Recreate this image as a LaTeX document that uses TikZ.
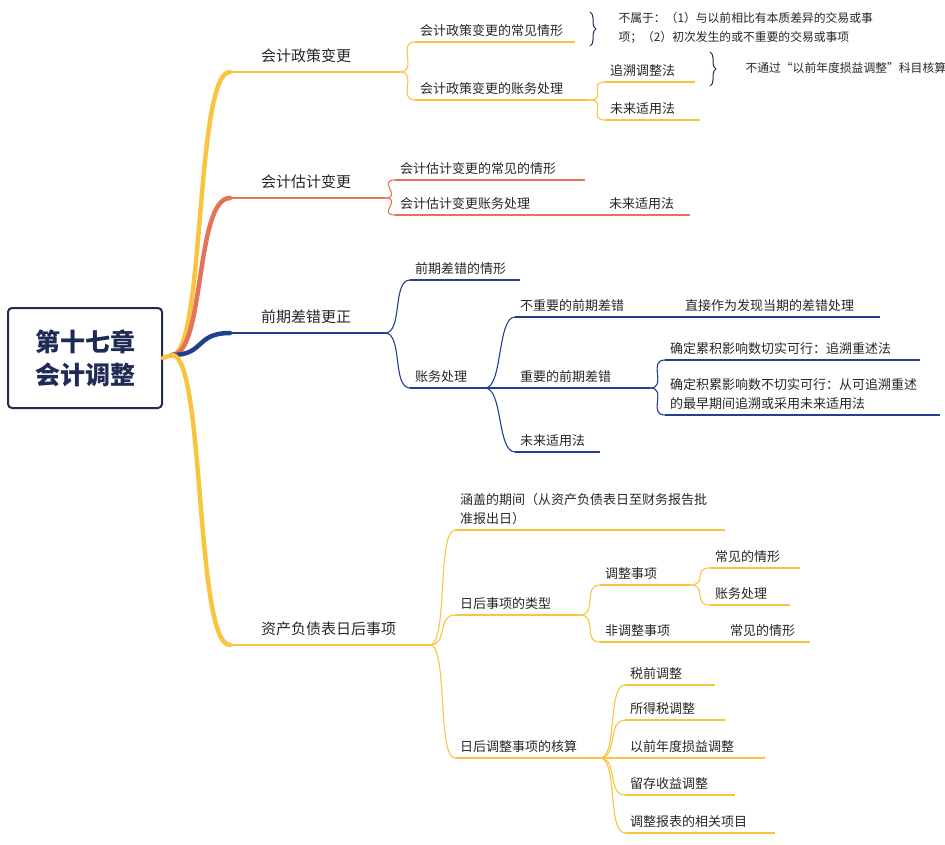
\documentclass[tikz,border=0pt]{standalone}
\usepackage{fontspec}
\setmainfont{Noto Sans CJK SC}
\usetikzlibrary{decorations.pathreplacing}

\definecolor{gold}{HTML}{F9C440}
\definecolor{coral}{HTML}{E5735A}
\definecolor{navy}{HTML}{23408E}
\definecolor{ink}{HTML}{1F2A55}

% one topic: name, x1, x2, y, colour, text
\newcommand\topic[6]{%
  \coordinate (#1-s) at (#2,#4); \coordinate (#1-e) at (#3,#4);
  \draw[line, #5] (#1-s) -- (#1-e);
  \node[lab, anchor=south west] (#1) at (#1-s) {#6};}
% curved link from parent end to child start
\newcommand\link[3]{\draw[line, #3] (#1-e) .. controls +(18,0) and +(-18,0) .. (#2-s);}

\begin{document}
\begin{tikzpicture}[x=1pt, y=-1pt,
    line/.style={line width=1.1pt},
    main/.style={line width=4.5pt, line cap=round},
    lab/.style={inner xsep=5pt, inner ysep=5pt, font=\fontsize{13}{19}\selectfont, text=black!85, align=left},
    big/.style={font=\fontsize{15}{19}\selectfont, xshift=26pt, yshift=4pt},
    note/.style={font=\fontsize{11.8}{19}\selectfont, text=black!85, align=left},
    brace/.style={decorate, decoration={brace, amplitude=6pt}, line width=1pt, ink}
]
\useasboundingbox (0,0) rectangle (945,845);

% Root
\node[draw=ink, line width=2pt, rounded corners=4pt, minimum width=154pt, minimum height=100pt,
      font=\fontsize{25}{33}\selectfont\bfseries, text=ink, align=center] (root) at (85,358) {第十七章\\会计调整};
\coordinate (hub) at (172,355);
\draw[main, gold] (root.east) -- (hub);

% Main branches
\topic{pol}{230}{400}{72}{gold}{}
\topic{est}{230}{385}{198}{coral}{}
\topic{err}{230}{385}{333}{navy}{}
\topic{sub}{230}{430}{645}{gold}{}
\node[lab, big, anchor=south west] (polt) at (pol-s) {会计政策变更};
\node[lab, big, anchor=south west] (estt) at (est-s) {会计估计变更};
\node[lab, big, anchor=south west] (errt) at (err-s) {前期差错更正};
\node[lab, big, anchor=south west] (subt) at (sub-s) {资产负债表日后事项};
\draw[main, gold] (hub) .. controls (205,355) and (195,72) .. (pol-s);
\draw[main, coral] (hub) .. controls (205,355) and (195,198) .. (est-s);
\draw[main, navy] (hub) .. controls (205,355) and (195,333) .. (err-s);
\draw[main, gold] (hub) .. controls (205,355) and (195,645) .. (sub-s);

% Accounting policy changes
\topic{pol1}{415}{575}{42}{gold}{会计政策变更的常见情形}
\topic{pol2}{415}{590}{100}{gold}{会计政策变更的账务处理}
\link{pol}{pol1}{gold} \link{pol}{pol2}{gold}
\draw[brace] (590,12) -- (590,46);
\node[note, anchor=west] (polnote) at (615,28) {不属于：（1）与以前相比有本质差异的交易或事\\项；（2）初次发生的或不重要的交易或事项};
\topic{retro}{605}{695}{82}{gold}{追溯调整法}
\topic{fut1}{605}{700}{120}{gold}{未来适用法}
\link{pol2}{retro}{gold} \link{pol2}{fut1}{gold}
\draw[brace] (710,52) -- (710,86);
\node[note, anchor=west] (retronote) at (742,68) {不通过“以前年度损益调整”科目核算};

% Accounting estimate changes
\topic{est1}{395}{585}{180}{coral}{会计估计变更的常见的情形}
\topic{est2}{395}{570}{215}{coral}{会计估计变更账务处理}
\topic{fut2}{570}{690}{215}{coral}{\hspace{34pt}未来适用法}
\link{est}{est1}{coral} \link{est}{est2}{coral}

% Prior period errors
\topic{err1}{410}{520}{280}{navy}{前期差错的情形}
\topic{err2}{410}{485}{388}{navy}{账务处理}
\link{err}{err1}{navy} \link{err}{err2}{navy}
\topic{minor}{515}{655}{317}{navy}{不重要的前期差错}
\topic{major}{515}{650}{388}{navy}{重要的前期差错}
\topic{fut3}{515}{600}{452}{navy}{未来适用法}
\link{err2}{minor}{navy} \link{err2}{major}{navy} \link{err2}{fut3}{navy}
\topic{direct}{680}{880}{317}{navy}{直接作为发现当期的差错处理}
\link{minor}{direct}{navy}
\topic{feas}{665}{920}{360}{navy}{确定累积影响数切实可行：追溯重述法}
\topic{infeas}{665}{940}{415}{navy}{确定积累影响数不切实可行：从可追溯重述\\的最早期间追溯或采用未来适用法}
\link{major}{feas}{navy} \link{major}{infeas}{navy}

% Events after the balance sheet date
\topic{per}{455}{725}{530}{gold}{涵盖的期间（从资产负债表日至财务报告批\\准报出日）}
\topic{kind}{455}{580}{615}{gold}{日后事项的类型}
\topic{acc}{455}{600}{758}{gold}{日后调整事项的核算}
\link{sub}{per}{gold} \link{sub}{kind}{gold} \link{sub}{acc}{gold}
\topic{adj}{600}{690}{585}{gold}{调整事项}
\topic{nadj}{600}{710}{642}{gold}{非调整事项}
\link{kind}{adj}{gold} \link{kind}{nadj}{gold}
\topic{adj1}{710}{800}{568}{gold}{常见的情形}
\topic{adj2}{710}{790}{605}{gold}{账务处理}
\link{adj}{adj1}{gold} \link{adj}{adj2}{gold}
\topic{nadj1}{725}{810}{642}{gold}{常见的情形}
\link{nadj}{nadj1}{gold}
\topic{acc1}{625}{715}{685}{gold}{税前调整}
\topic{acc2}{625}{725}{720}{gold}{所得税调整}
\topic{acc3}{625}{765}{758}{gold}{以前年度损益调整}
\topic{acc4}{625}{735}{795}{gold}{留存收益调整}
\topic{acc5}{625}{775}{833}{gold}{调整报表的相关项目}
\foreach \k in {1,...,5}{\link{acc}{acc\k}{gold}}
\end{tikzpicture}
\end{document}
